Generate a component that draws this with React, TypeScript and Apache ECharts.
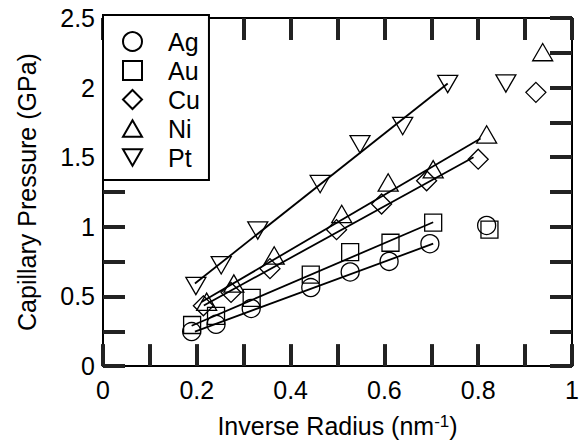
import React, { useEffect, useRef } from 'react';
import * as echarts from 'echarts';

// Metals in legend order
const metals = ['Ag', 'Au', 'Cu', 'Ni', 'Pt'];

// Measured points: [inverse radius (nm^-1), capillary pressure (GPa)]
const agPoints = [[0.189, 0.248], [0.241, 0.30], [0.316, 0.414], [0.443, 0.564], [0.527, 0.676], [0.610, 0.752], [0.697, 0.879], [0.818, 1.01]];
const auPoints = [[0.190, 0.295], [0.241, 0.36], [0.317, 0.49], [0.443, 0.657], [0.527, 0.819], [0.613, 0.886], [0.704, 1.03], [0.824, 0.98]];
const cuPoints = [[0.214, 0.433], [0.273, 0.529], [0.356, 0.70], [0.498, 0.98], [0.594, 1.164], [0.690, 1.331], [0.800, 1.486], [0.923, 1.966]];
const niPoints = [[0.221, 0.462], [0.279, 0.593], [0.365, 0.795], [0.509, 1.093], [0.608, 1.319], [0.704, 1.414], [0.818, 1.664], [0.9375, 2.255]];
const ptPoints = [[0.198, 0.575], [0.252, 0.724], [0.330, 0.974], [0.463, 1.307], [0.548, 1.593], [0.639, 1.724], [0.735, 2.026], [0.859, 2.03]];

// Linear fit end points
const agFit = [[0.196, 0.248], [0.704, 0.879]];
const auFit = [[0.189, 0.29], [0.704, 1.033]];
const cuFit = [[0.215, 0.435], [0.790, 1.50]];
const niFit = [[0.210, 0.46], [0.805, 1.635]];
const ptFit = [[0.196, 0.593], [0.735, 2.03]];

// Axis ranges and tick spacing
const xRange = [0, 1];
const yRange = [0, 2.5];
const xTickStep = 0.1;
const yTickStep = 0.25;

const FONT = "'Liberation Sans', Arial, Helvetica, sans-serif";

const SQUARE = 'path://M0,0L10,0L10,10L0,10Z';
const TRI_UP = 'path://M5,0L10,8.66L0,8.66Z';
const TRI_DOWN = 'path://M0,0L10,0L5,8.66Z';

export default function App() {
  const ref = useRef<HTMLDivElement>(null);

  useEffect(() => {
    if (!ref.current) return;
    const chart = echarts.init(ref.current, undefined, { renderer: 'svg' });

    const pointSets = [agPoints, auPoints, cuPoints, niPoints, ptPoints];
    const fitSets = [agFit, auFit, cuFit, niFit, ptFit];
    const symbols = ['circle', SQUARE, 'diamond', TRI_UP, TRI_DOWN];
    const sizes = [18, 17, 20, 20, 20];

    const TL = 22;
    const mkLine = () => ({ show: true, onZero: false, lineStyle: { color: '#000', width: 2 } });
    const mkTick = () => ({ show: true, inside: true, length: TL, lineStyle: { color: '#222', width: 4 } });
    const labelBase = { color: '#000', fontSize: 25, fontFamily: FONT };

    const fitSeries = fitSets.map((d, i) => ({
      name: metals[i] + ' fit', type: 'line', data: d, symbol: 'none', showSymbol: false, silent: true, z: 2,
      lineStyle: { color: '#000', width: 1.8 },
    }));

    const pointSeries = pointSets.map((d, i) => ({
      name: metals[i], type: 'scatter', data: d, symbol: symbols[i], symbolSize: sizes[i], symbolKeepAspect: true,
      clip: false, z: 3,
      itemStyle: { color: 'rgba(0,0,0,0)', borderColor: '#000', borderWidth: 1.3, opacity: 1 },
      emphasis: { disabled: true },
    }));

    const xBase = { type: 'value', min: xRange[0], max: xRange[1], interval: xTickStep, splitLine: { show: false } };
    const yBase = { type: 'value', min: yRange[0], max: yRange[1], interval: yTickStep, splitLine: { show: false } };

    chart.setOption({
      animation: false,
      backgroundColor: '#fff',
      grid: { left: 103, right: 11, top: 18, bottom: 75, containLabel: false },
      legend: {
        data: metals, orient: 'vertical', left: 103, top: 15, padding: [14, 9, 10, 19],
        itemWidth: 19, itemHeight: 19, itemGap: 4, borderColor: '#000', borderWidth: 2, backgroundColor: '#fff',
        selectedMode: false, z: 10,
        textStyle: { color: '#000', fontSize: 25, fontFamily: FONT, lineHeight: 25, padding: [0, 0, 0, 21] },
      },
      xAxis: [
        {
          ...xBase, position: 'bottom',
          axisLine: mkLine(), axisTick: mkTick(),
          axisLabel: {
            ...labelBase, margin: 11,
            formatter: (v: number) => { const k = Math.round(v * 10); return k % 2 === 0 ? String(k / 10) : ''; },
          },
          name: '{n|Inverse Radius (nm}{s|-1}{n|)}', nameLocation: 'middle', nameGap: 41,
          nameTextStyle: {
            color: '#000', fontFamily: FONT, fontSize: 25,
            rich: {
              n: { fontSize: 25, lineHeight: 25, fontFamily: FONT, color: '#000', verticalAlign: 'bottom', padding: [6, 0, 0, 0] },
              s: { fontSize: 17, lineHeight: 17, fontFamily: FONT, color: '#000', verticalAlign: 'top' },
            },
          },
        },
        { ...xBase, position: 'top', axisLine: mkLine(), axisTick: mkTick(), axisLabel: { show: false } },
      ],
      yAxis: [
        {
          ...yBase, position: 'left',
          axisLine: mkLine(), axisTick: mkTick(),
          axisLabel: {
            ...labelBase, margin: 8, padding: [4, 0, 0, 0],
            formatter: (v: number) => { const k = Math.round(v * 4); return k % 2 === 0 ? String(k / 4) : ''; },
          },
          name: 'Capillary Pressure (GPa)', nameLocation: 'middle', nameGap: 64,
          nameTextStyle: { color: '#000', fontFamily: FONT, fontSize: 25 },
        },
        { ...yBase, position: 'right', axisLine: mkLine(), axisTick: mkTick(), axisLabel: { show: false } },
      ],
      series: [...fitSeries, ...pointSeries],
    });

    return () => chart.dispose();
  }, []);

  return <div ref={ref} style={{ width: 583, height: 443, position: 'absolute', left: 0, top: 0 }} />;
}
